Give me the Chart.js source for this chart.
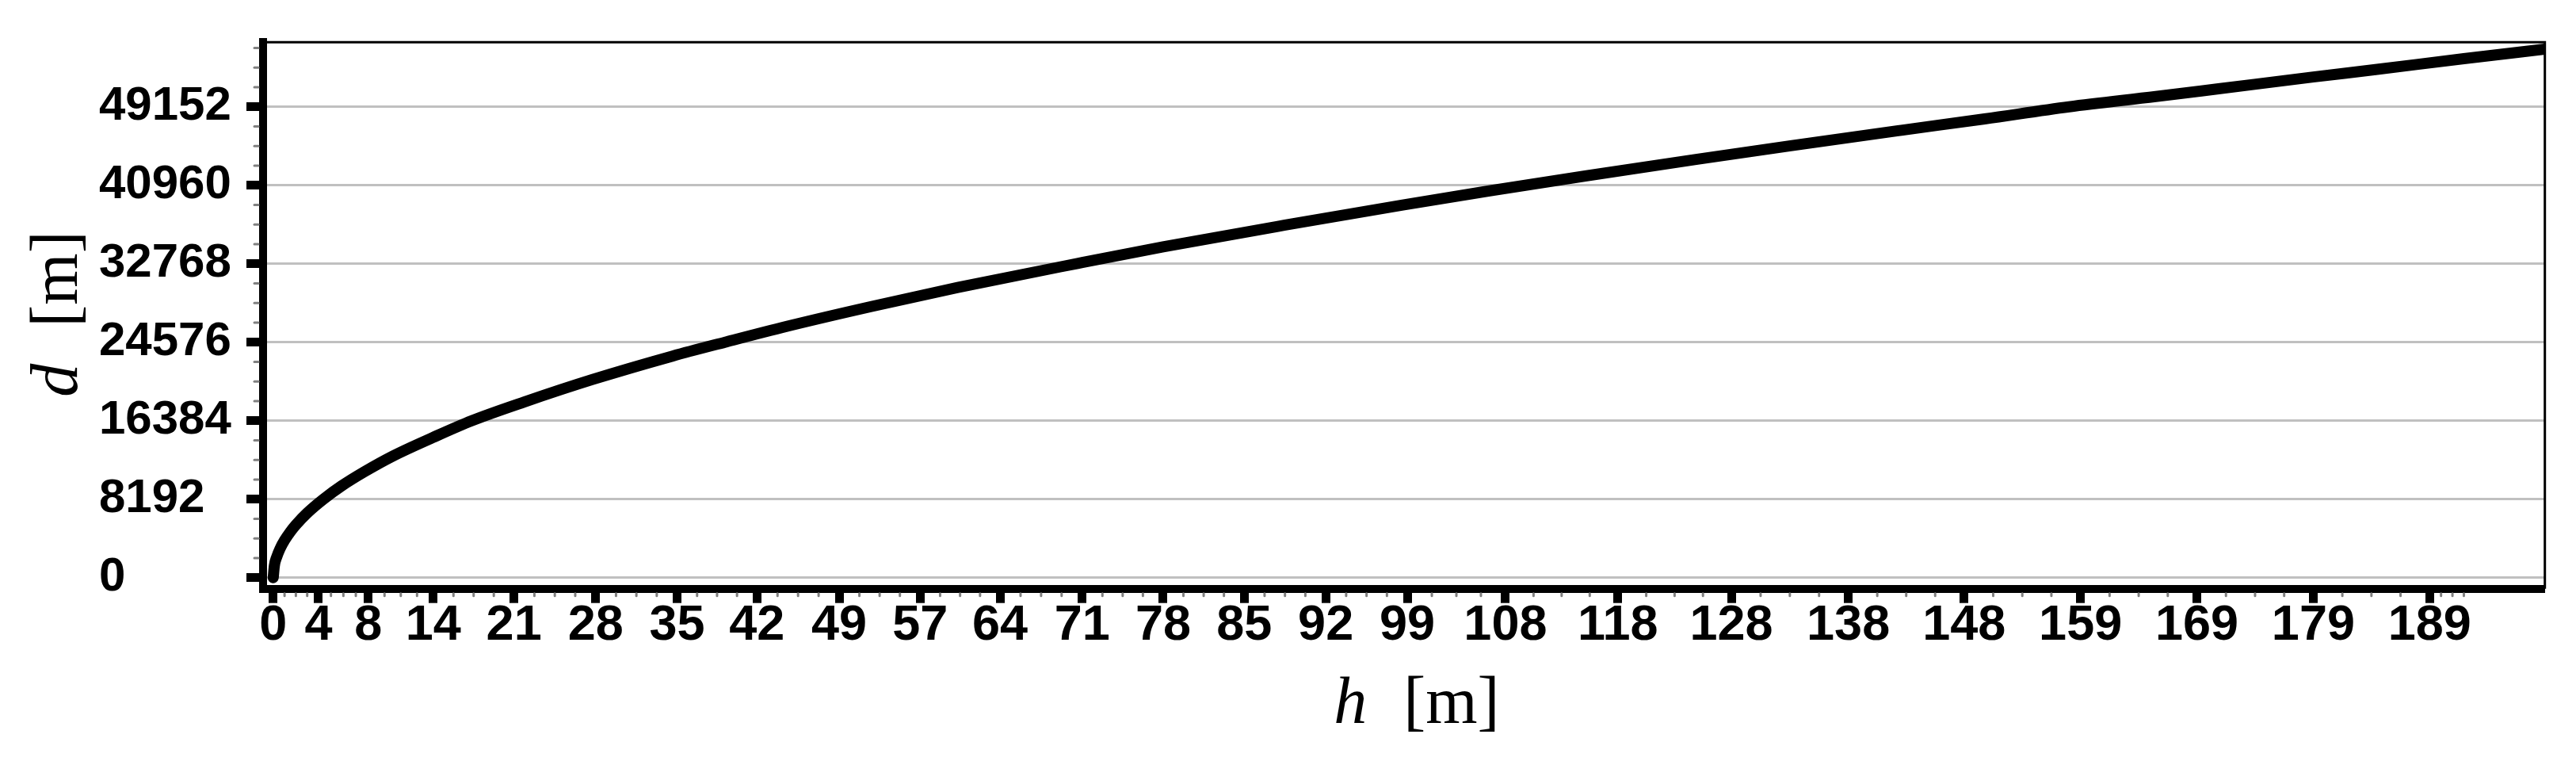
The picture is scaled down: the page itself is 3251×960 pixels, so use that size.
<!DOCTYPE html>
<html>
<head>
<meta charset="utf-8">
<title>d vs h</title>
<script src="https://cdn.jsdelivr.net/npm/chart.js@4"></script>
<style>
  html, body { margin: 0; padding: 0; background: #fff; }
  canvas { display: block; }
</style>
</head>
<body>
<canvas id="chart" width="3251" height="960"></canvas>
<script>
// h [m] and d [m]
const hValues = [0, 0.1, 0.3, 0.6, 1, 1.5, 2, 3, 4.4, 6, 8, 10.5, 14, 17.4, 22, 28, 35, 39.6, 45, 52.4,
  60, 70.5, 78, 88.6, 99, 106.6, 115, 124.7, 133, 142.7, 150, 157.4, 165, 170.5, 178.8, 184.4, 192, 199.1];
const dValues = [0, 1240, 2140, 3030, 3910, 4790, 5530, 6770, 8190, 9580, 11060, 12700, 14630, 16380, 18340, 20690, 23130, 24580, 26230, 28300,
  30290, 32800, 34530, 36780, 38900, 40380, 41930, 43660, 45090, 46700, 47890, 49150, 50220, 51030, 52260, 53060, 54180, 55170];

// x axis: where the ticks sit, and what they say
const xTickValues = [0, 3.97, 8.33, 14.03, 21.1, 28.26, 35.4, 42.4, 49.6, 56.7, 63.7, 70.9, 78.0, 85.1, 92.25, 99.4,
  108.0, 117.85, 127.8, 138.05, 148.2, 158.4, 168.6, 178.8, 189.0];
const xTickLabels = ["0", "4", "8", "14", "21", "28", "35", "42", "49", "57", "64", "71", "78", "85", "92", "99",
  "108", "118", "128", "138", "148", "159", "169", "179", "189"];
const xExtraMinor = [190, 191, 192];
const xMin = -0.89;
const xMax = 199.1;

// y axis
const yTickValues = [0, 8192, 16384, 24576, 32768, 40960, 49152];
const yTickLabels = ["0", "8192", "16384", "24576", "32768", "40960", "49152"];
const yMinorStep = 2048;
const yMin = -1160;
const yMax = 55890;

// minor ticks: three between each pair of major ones
const xMinorTicks = [];
for (let i = 0; i < xTickValues.length - 1; i++) {
  const a = xTickValues[i], b = xTickValues[i + 1];
  for (let k = 1; k < 4; k++) xMinorTicks.push(a + (b - a) * k / 4);
}
xMinorTicks.push(...xExtraMinor);
const yMinorTicks = [];
for (let v = yMinorStep; v < yMax; v += yMinorStep) {
  if (v % 8192 !== 0) yMinorTicks.push(v);
}

const frameAndTitles = {
  id: "frameAndTitles",
  afterDraw(chart) {
    const { ctx, chartArea, scales } = chart;
    const { left, right, top, bottom } = chartArea;
    ctx.save();

    // minor ticks, grey
    ctx.strokeStyle = "#808080";
    ctx.lineWidth = 3;
    ctx.lineCap = "round";
    xMinorTicks.forEach((v) => {
      const px = scales.x.getPixelForValue(v);
      ctx.beginPath();
      ctx.moveTo(px, bottom + 6);
      ctx.lineTo(px, bottom + 9);
      ctx.stroke();
    });
    yMinorTicks.forEach((v) => {
      const py = scales.y.getPixelForValue(v);
      ctx.beginPath();
      ctx.moveTo(left - 11, py);
      ctx.lineTo(left - 6, py);
      ctx.stroke();
    });

    // thin frame on top and right
    ctx.strokeStyle = "#000";
    ctx.lineWidth = 3;
    ctx.lineCap = "butt";
    ctx.beginPath();
    ctx.moveTo(left, top);
    ctx.lineTo(right, top);
    ctx.lineTo(right, bottom);
    ctx.stroke();

    // axis titles: italic variable, upright unit
    const drawTitle = (x, y, rot, name) => {
      ctx.save();
      ctx.translate(x, y);
      ctx.rotate(rot);
      ctx.fillStyle = "#000";
      ctx.textBaseline = "alphabetic";
      ctx.textAlign = "left";
      const italic = 'italic 84px "Liberation Serif", serif';
      const upright = '84px "Liberation Serif", serif';
      const unit = "  [m]";
      ctx.font = italic;
      const w1 = ctx.measureText(name).width;
      ctx.font = upright;
      const w2 = ctx.measureText(unit).width;
      const start = -(w1 + w2) / 2;
      ctx.font = italic;
      ctx.fillText(name, start, 0);
      ctx.font = upright;
      ctx.fillText(unit, start + w1 + 4, 0);
      ctx.restore();
    };
    drawTitle((left + right) / 2 + 14, 912, 0, "h");
    drawTitle(97, (top + bottom) / 2, -Math.PI / 2, "d");

    ctx.restore();
  },
};

const ctx = document.getElementById("chart");
new Chart(ctx, {
  type: "line",
  data: {
    datasets: [
      {
        label: "d",
        data: hValues.map((h, i) => ({ x: h, y: dValues[i] })),
        borderColor: "#000",
        borderWidth: 14,
        pointRadius: 0,
        fill: false,
        cubicInterpolationMode: "monotone",
        borderCapStyle: "round",
        borderJoinStyle: "round",
      },
    ],
  },
  options: {
    responsive: false,
    animation: false,
    layout: { padding: { left: 125, top: 53.3, right: 39.3, bottom: 0 } },
    plugins: {
      legend: { display: false },
      tooltip: { enabled: false },
    },
    scales: {
      x: {
        type: "linear",
        min: xMin,
        max: xMax,
        afterBuildTicks: (scale) => {
          scale.ticks = xTickValues.map((v) => ({ value: v }));
        },
        afterFit: (scale) => {
          scale.height = 217.3;
        },
        grid: {
          drawOnChartArea: false,
          color: "rgba(0,0,0,0)",
          tickColor: "#000",
          tickWidth: 11,
          tickLength: 18,
        },
        border: { color: "#000", width: 10 },
        ticks: {
          autoSkip: false,
          maxRotation: 0,
          minRotation: 0,
          padding: -2.5,
          color: "#000",
          font: { family: '"Liberation Sans", Arial, sans-serif', size: 63, weight: "bold", lineHeight: 1 },
          callback: (value, index) => xTickLabels[index],
        },
      },
      y: {
        type: "linear",
        min: yMin,
        max: yMax,
        afterBuildTicks: (scale) => {
          scale.ticks = yTickValues.map((v) => ({ value: v }));
        },
        afterFit: (scale) => {
          scale.width = 332 - 125;
        },
        grid: {
          color: "#c0c0c0",
          lineWidth: 3,
          tickColor: "#000",
          tickWidth: 11,
          tickLength: 21,
        },
        border: { color: "#000", width: 10 },
        ticks: {
          crossAlign: "far",
          color: "#000",
          font: { family: '"Liberation Sans", Arial, sans-serif', size: 60, weight: "bold" },
          callback: (value, index) => yTickLabels[index],
        },
      },
    },
  },
  plugins: [frameAndTitles],
});
</script>
</body>
</html>
